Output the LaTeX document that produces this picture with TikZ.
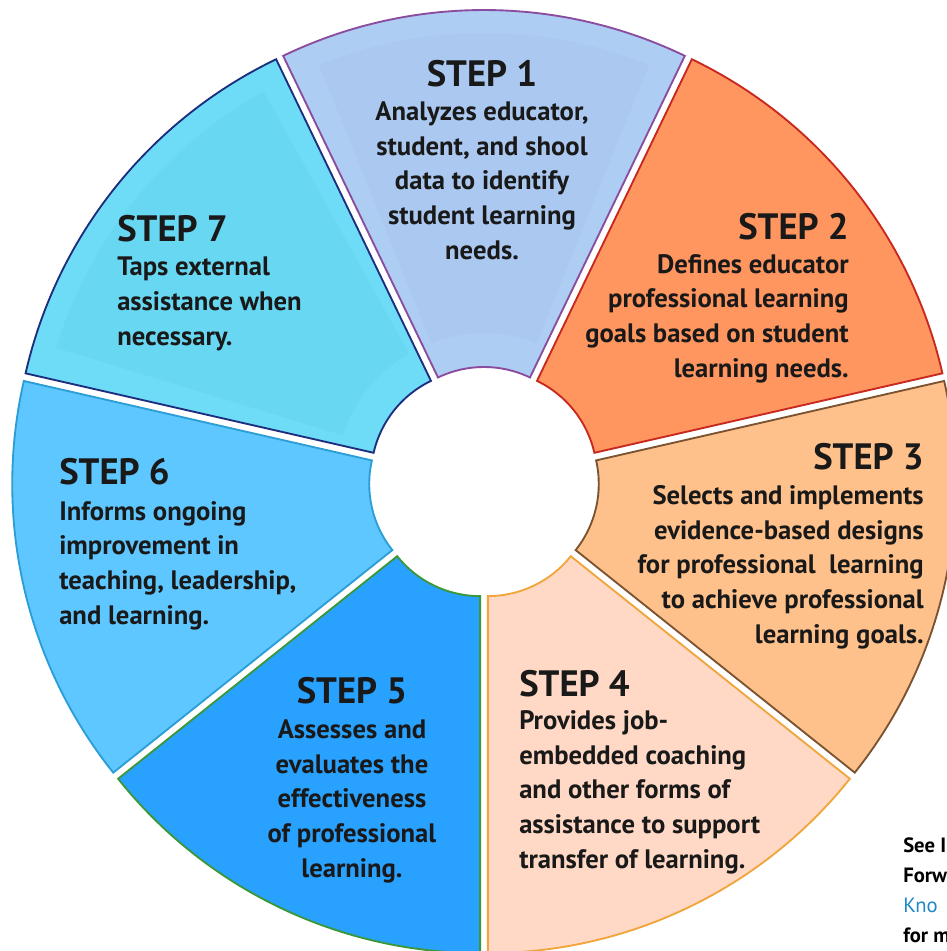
\documentclass[tikz,border=0pt]{standalone}
\usepackage{fontspec}
\setmainfont{PT Sans}
\usepackage{tikz}
\usetikzlibrary{positioning,arrows,calc}

\definecolor{oneFill}{HTML}{AECDF3}
\definecolor{oneIn}{HTML}{AAC8F0}
\definecolor{oneLine}{HTML}{8A4C9E}
\definecolor{twoFill}{HTML}{FF955F}
\definecolor{twoLine}{HTML}{C8281E}
\definecolor{threeFill}{HTML}{FFC18B}
\definecolor{threeLine}{HTML}{7B5330}
\definecolor{fourFill}{HTML}{FFD9C5}
\definecolor{fourLine}{HTML}{F0A63C}
\definecolor{fiveFill}{HTML}{29A1FF}
\definecolor{fiveLine}{HTML}{3A983A}
\definecolor{sixFill}{HTML}{5FC7FF}
\definecolor{sixLine}{HTML}{2C9ED6}
\definecolor{sevenFill}{HTML}{6EDCF7}
\definecolor{sevenIn}{HTML}{68D7F2}
\definecolor{sevenLine}{HTML}{1E2E7E}
\definecolor{linkBlue}{HTML}{1E88C8}

\begin{document}
\begin{tikzpicture}[x=0.75pt,y=0.75pt,
	sector/.style={line width=1.4pt,line join=miter},
	steptitle/.style={inner sep=0pt,font=\bfseries\fontsize{27.5}{27.5}\selectfont,text=black!90},
	stepbody/.style={inner sep=0pt,font=\bfseries\fontsize{20}{26}\selectfont,text=black!90}]
%	\draw[lightgray] (-484,-469) grid[step=100] (463,482);
\useasboundingbox (-484,-469) rectangle (463,482);
\clip (-484,-469) rectangle (463,482);

\filldraw[sector,shift={(90:9)},fill=oneFill,draw=oneLine]
	(64.29:106) -- (64.29:463) arc[start angle=64.29,end angle=115.71,radius=463]
	-- (115.71:106) arc[start angle=115.71,end angle=64.29,radius=106] -- cycle;
\fill[shift={(90:9)},oneIn]
	(68:140) -- (68:440) arc[start angle=68,end angle=112,radius=440]
	-- (112:140) arc[start angle=112,end angle=68,radius=140] -- cycle;
\filldraw[sector,shift={(38.57:9)},fill=twoFill,draw=twoLine]
	(12.86:106) -- (12.86:463) arc[start angle=12.86,end angle=64.29,radius=463]
	-- (64.29:106) arc[start angle=64.29,end angle=12.86,radius=106] -- cycle;
\filldraw[sector,shift={(-12.86:9)},fill=threeFill,draw=threeLine]
	(-38.57:106) -- (-38.57:463) arc[start angle=-38.57,end angle=12.86,radius=463]
	-- (12.86:106) arc[start angle=12.86,end angle=-38.57,radius=106] -- cycle;
\filldraw[sector,shift={(-64.29:9)},fill=fourFill,draw=fourLine]
	(-90:106) -- (-90:463) arc[start angle=-90,end angle=-38.57,radius=463]
	-- (-38.57:106) arc[start angle=-38.57,end angle=-90,radius=106] -- cycle;
\filldraw[sector,shift={(-115.71:9)},fill=fiveFill,draw=fiveLine]
	(-141.43:106) -- (-141.43:463) arc[start angle=-141.43,end angle=-90,radius=463]
	-- (-90:106) arc[start angle=-90,end angle=-141.43,radius=106] -- cycle;
\filldraw[sector,shift={(192.86:9)},fill=sixFill,draw=sixLine]
	(167.14:106) -- (167.14:463) arc[start angle=167.14,end angle=218.57,radius=463]
	-- (218.57:106) arc[start angle=218.57,end angle=167.14,radius=106] -- cycle;
\filldraw[sector,shift={(141.43:9)},fill=sevenFill,draw=sevenLine]
	(115.71:106) -- (115.71:463) arc[start angle=115.71,end angle=167.14,radius=463]
	-- (167.14:106) arc[start angle=167.14,end angle=115.71,radius=106] -- cycle;
\fill[shift={(141.43:9)},sevenIn]
	(119:140) -- (119:440) arc[start angle=119,end angle=163,radius=440]
	-- (163:140) arc[start angle=163,end angle=119,radius=140] -- cycle;

\node[steptitle,anchor=base] (Step1) at (-2,396) {STEP 1};
\node[stepbody,anchor=base,align=center] (Step1Text) at (-2,223)
	{Analyzes educator,\\student, and shool\\data to identify\\student learning\\needs.};

\node[steptitle,anchor=base east] (Step2) at (365,243) {STEP 2};
\node[stepbody,anchor=base east,align=right] (Step2Text) at (365,105)
	{Defines educator\\professional learning\\goals based on student\\learning needs.};

\node[steptitle,anchor=base east] (Step3) at (440,13) {STEP 3};
\node[stepbody,anchor=base east,align=right] (Step3Text) at (440,-161)
	{Selects and implements\\evidence-based designs\\for professional\ \ learning\\to achieve professional\\learning goals.};

\node[steptitle,anchor=base west] (Step4) at (35,-214) {STEP 4};
\node[stepbody,anchor=base west,align=left] (Step4Text) at (35,-386)
	{Provides job-\\embedded coaching\\and other forms of\\assistance to support\\transfer of learning.};

\node[steptitle,anchor=base] (Step5) at (-132,-221) {STEP 5};
\node[stepbody,anchor=base,align=center] (Step5Text) at (-132,-395)
	{Assesses and\\evaluates the\\effectiveness\\of professional\\learning.};

\node[steptitle,anchor=base west] (Step6) at (-425,-2) {STEP 6};
\node[stepbody,anchor=base west,align=left] (Step6Text) at (-425,-142)
	{Informs ongoing\\improvement in\\teaching, leadership,\\and learning.};

\node[steptitle,anchor=base west] (Step7) at (-367,241) {STEP 7};
\node[stepbody,anchor=base west,align=left] (Step7Text) at (-367,137)
	{Taps external\\assistance when\\necessary.};

\node[inner sep=0pt,anchor=base west,align=left,font=\bfseries\fontsize{15.5}{22.5}\selectfont]
	(SeeNote) at (419,-460)
	{See I\\Forw\\{\mdseries\color{linkBlue}Kno}\\for m};
\end{tikzpicture}
\end{document}
